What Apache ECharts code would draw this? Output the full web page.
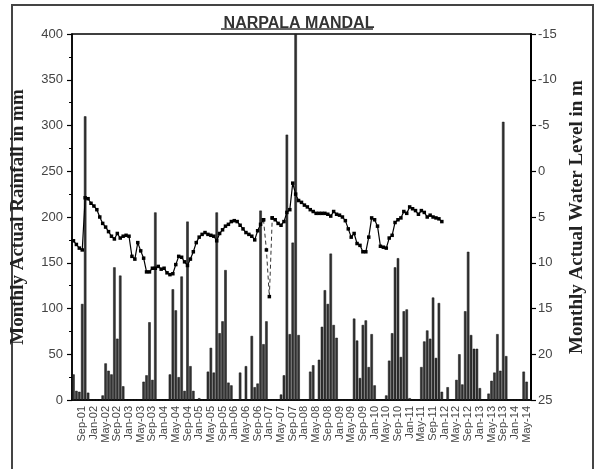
<!DOCTYPE html>
<html><head><meta charset="utf-8">
<script src="https://cdn.jsdelivr.net/npm/echarts@6/dist/echarts.min.js"></script>
<style>html,body{margin:0;padding:0;background:#fff}#c{width:598px;height:469px}</style>
</head><body><div id="c"></div>
<script>
const chartTitle = 'NARPALA MANDAL';
const leftAxisName = 'Monthly Actual Rainfall in mm';
const rightAxisName = 'Monthly Actual Water Level in m';
const monthNames = ['Jan','Feb','Mar','Apr','May','Jun','Jul','Aug','Sep','Oct','Nov','Dec'];
const firstYear = 2001, firstMonthIndex = 5, monthCount = 157; // Jun-01 .. Jun-14
const categories = [];
for (let k = 0; k < monthCount; k++) {
  const m = firstMonthIndex + k;
  const y = firstYear + Math.floor(m / 12);
  categories.push(monthNames[m % 12] + '-' + String(y % 100).padStart(2, '0'));
}
// Monthly actual rainfall (mm), Jun-01 .. Jun-14
const rainfall = [
  28,10,9,105,310,8,0,0,0,0,            // Jun-01..Mar-02
  5,40,32,28,145,67,136,15,0,0,          // Apr-02..Jan-03
  0,0,0,0,20,27,85,22,205,0,             // Feb-03..Nov-03
  0,0,0,28,121,98,25,135,10,195,         // Dec-03..Sep-04
  37,10,0,2,0,0,31,57,30,205,            // Oct-04..Jul-05
  73,86,142,19,16,0,0,30,0,37,           // Aug-05..May-06
  0,70,14,18,207,61,86,0,0,0,            // Jun-06..Mar-07
  0,6,27,290,72,172,400,71,0,0,          // Apr-07..Jan-08
  0,31,38,0,44,80,120,105,160,82,        // Feb-08..Nov-08
  68,0,0,0,0,0,89,65,24,82,              // Dec-08..Sep-09
  87,36,72,16,0,0,0,5,43,73,             // Oct-09..Jul-10
  145,155,47,97,99,2,0,0,0,36,           // Aug-10..May-11
  64,76,67,112,46,106,9,0,14,0,          // Jun-11..Mar-12
  0,22,50,17,97,162,71,56,56,13,         // Apr-12..Jan-13
  0,0,7,21,30,72,32,304,48,0,            // Feb-13..Nov-13
  0,0,0,0,31,20,0                        // Dec-13..Jun-14
];
// Monthly water level (m below ground), Jun-01 .. Dec-11
const waterLevel = [
  7.6,8.0,8.4,8.6,2.9,3.0,3.5,3.8,4.2,5.0,
  5.7,6.1,6.6,7.1,7.4,6.8,7.3,7.1,7.0,7.1,
  9.3,9.6,7.8,8.7,9.5,11.0,11.0,10.6,10.6,10.4,
  10.7,10.6,11.1,11.3,11.2,10.2,9.3,9.4,9.9,10.3,
  9.6,8.8,7.8,7.2,6.9,6.7,6.9,7.0,7.1,7.6,
  6.8,6.4,6.0,5.8,5.5,5.4,5.5,5.9,6.3,6.7,
  6.9,7.1,7.5,6.5,5.8,5.3,8.6,13.7,5.1,5.3,
  5.7,5.9,5.5,4.5,4.2,1.3,2.5,3.2,3.4,3.7,
  3.9,4.2,4.4,4.6,4.6,4.6,4.6,4.7,4.9,4.4,
  4.7,4.8,5.0,5.4,6.3,7.2,6.8,7.9,8.1,8.8,
  8.8,7.2,5.1,5.3,6.0,8.2,8.3,8.4,7.3,7.0,
  5.6,5.3,5.1,4.4,4.6,3.9,4.1,4.3,4.7,4.3,
  4.5,5.0,4.8,5.0,5.1,5.2,5.5
];
const dashedFrom = 65, dashedTo = 68;
const wlFull = categories.map((c, i) => i < waterLevel.length ? waterLevel[i] : null);
const wlSolid = wlFull.map((v, i) => (i > dashedFrom && i < dashedTo) ? null : v);
const wlDashed = wlFull.map((v, i) => (i >= dashedFrom && i <= dashedTo) ? v : null);

const chart = echarts.init(document.getElementById('c'), null, {renderer: 'canvas'});
const labelColor = '#444';
chart.setOption({
  animation: false,
  backgroundColor: '#fff',
  title: {
    text: chartTitle, left: 'center', top: 11,
    textStyle: {fontFamily: 'Arial, Liberation Sans', fontWeight: 'bold', fontSize: 16, color: '#333'}
  },
  graphic: [
    {type: 'rect', shape: {x: 12, y: 5, width: 581, height: 470}, style: {fill: 'none', stroke: '#444', lineWidth: 2}, silent: true},
    {type: 'line', shape: {x1: 221, y1: 29, x2: 373, y2: 29}, style: {stroke: '#333', lineWidth: 1.5}, silent: true}
  ],
  grid: {left: 72, right: 67, top: 34, bottom: 69, show: true, borderColor: '#000', borderWidth: 1.5, backgroundColor: 'transparent'},
  xAxis: {
    type: 'category', data: categories, boundaryGap: true,
    axisLine: {lineStyle: {color: '#000', width: 1.5}},
    axisTick: {interval: (i) => i % 2 === 0, length: 4, lineStyle: {color: '#000', width: 1.5}},
    axisLabel: {
      interval: (i) => i >= 3 && (i - 3) % 4 === 0, rotate: 90, margin: 6,
      fontFamily: 'Arial, Liberation Sans', fontSize: 11, color: labelColor
    },
    splitLine: {show: false}
  },
  yAxis: [
    {
      type: 'value', min: 0, max: 400, interval: 50, position: 'left',
      name: leftAxisName, nameLocation: 'middle', nameGap: 44, nameRotate: 90,
      nameTextStyle: {fontFamily: 'Liberation Serif, Times New Roman', fontWeight: 'bold', fontSize: 19, color: '#222'},
      axisLine: {show: true, lineStyle: {color: '#000', width: 1.5}},
      axisTick: {show: true, length: 5, lineStyle: {color: '#000', width: 1.2}},
      minorTick: {show: true, splitNumber: 2, length: 3, lineStyle: {color: '#000', width: 1}},
      axisLabel: {fontFamily: 'Arial, Liberation Sans', fontSize: 13, color: labelColor, margin: 9},
      splitLine: {show: false}
    },
    {
      type: 'value', min: -15, max: 25, interval: 5, position: 'right', inverse: true,
      name: rightAxisName, nameLocation: 'middle', nameGap: 36, nameRotate: 90,
      nameTextStyle: {fontFamily: 'Liberation Serif, Times New Roman', fontWeight: 'bold', fontSize: 19, color: '#222'},
      axisLine: {show: true, lineStyle: {color: '#000', width: 2}},
      axisTick: {show: true, length: 5, lineStyle: {color: '#000', width: 1.2}},
      axisLabel: {fontFamily: 'Arial, Liberation Sans', fontSize: 13, color: labelColor, margin: 7},
      splitLine: {show: false}
    }
  ],
  series: [
    {
      type: 'bar', yAxisIndex: 0, data: rainfall, barWidth: '85%',
      itemStyle: {color: '#333', borderColor: '#111', borderWidth: 0.5}
    },
    {
      type: 'line', yAxisIndex: 1, data: wlSolid, connectNulls: false,
      symbol: 'rect', symbolSize: 3.5, showAllSymbol: true,
      lineStyle: {color: '#000', width: 1.2}, itemStyle: {color: '#000'}
    },
    {
      type: 'line', yAxisIndex: 1, data: wlDashed, connectNulls: false,
      symbol: 'rect', symbolSize: 3.5, showAllSymbol: true,
      lineStyle: {color: '#333', width: 1, type: [4, 3]}, itemStyle: {color: '#000'}
    }
  ]
});
</script></body></html>
